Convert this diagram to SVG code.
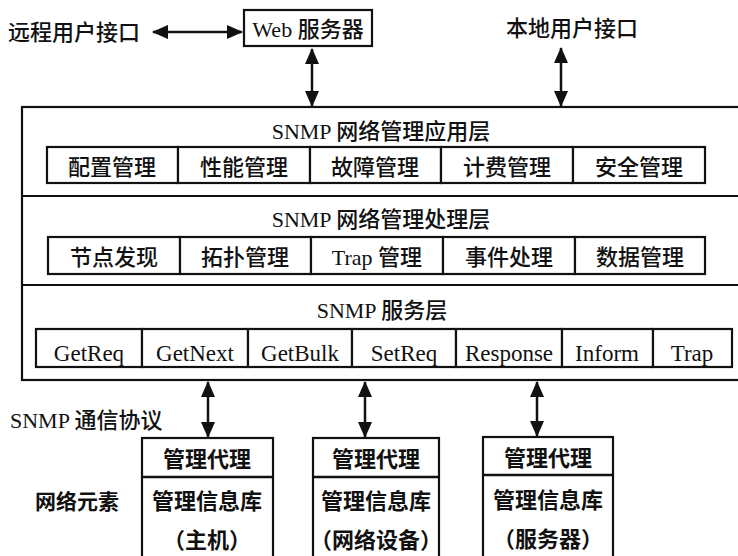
<svg xmlns="http://www.w3.org/2000/svg" width="738" height="556" viewBox="0 0 738 556">
<style>
.bx{fill:#fff;stroke:#111;stroke-width:2.2}
.t{font-family:"Liberation Serif","Noto Sans CJK SC",serif;font-size:22px;font-weight:500;fill:#111;text-anchor:middle}
.r3{font-size:23px}
.c{font-family:"Noto Sans CJK SC",sans-serif;font-size:22px;fill:#111;font-weight:bold}
.m{font-family:"Noto Sans CJK SC",sans-serif;font-size:22px;fill:#111;font-weight:500}
.ln{stroke:#111;stroke-width:2.5;fill:none;marker-start:url(#ah);marker-end:url(#ah)}
</style>
<defs>
<marker id="ah" viewBox="0 0 16 14" refX="15" refY="7" markerWidth="16" markerHeight="14" markerUnits="userSpaceOnUse" orient="auto-start-reverse">
<path d="M0,0 L16,7 L0,14 Z" fill="#111"/>
</marker>
</defs>
<rect width="738" height="556" fill="#fff"/>

<g id="remote"><text class="m" x="8" y="40">远程用户接口</text></g>
<g id="local"><text class="m" x="506" y="36">本地用户接口</text></g>
<g id="web"><rect class="bx" x="244" y="10" width="128" height="36"/><text class="t" x="308" y="37">Web 服务器</text></g>

<g id="stack">
<rect class="bx" x="22" y="107" width="720" height="273"/>
<line x1="22" y1="196" x2="742" y2="196" stroke="#111" stroke-width="2.2"/>
<line x1="22" y1="285" x2="742" y2="285" stroke="#111" stroke-width="2.2"/>
</g>

<g id="layer1">
<text class="t" x="381" y="139">SNMP 网络管理应用层</text>
<g id="l1-boxes">
<rect class="bx" x="47" y="147" width="131" height="36"/><text class="t" x="112" y="175">配置管理</text>
<rect class="bx" x="178" y="147" width="132" height="36"/><text class="t" x="244" y="175">性能管理</text>
<rect class="bx" x="310" y="147" width="131" height="36"/><text class="t" x="375" y="175">故障管理</text>
<rect class="bx" x="441" y="147" width="132" height="36"/><text class="t" x="507" y="175">计费管理</text>
<rect class="bx" x="573" y="147" width="132" height="36"/><text class="t" x="639" y="175">安全管理</text>
</g>
</g>

<g id="layer2">
<text class="t" x="381" y="227">SNMP 网络管理处理层</text>
<g id="l2-boxes">
<rect class="bx" x="48" y="237" width="132" height="37"/><text class="t" x="114" y="265">节点发现</text>
<rect class="bx" x="180" y="237" width="131" height="37"/><text class="t" x="245" y="265">拓扑管理</text>
<rect class="bx" x="311" y="237" width="132" height="37"/><text class="t" x="377" y="265">Trap 管理</text>
<rect class="bx" x="443" y="237" width="132" height="37"/><text class="t" x="509" y="265">事件处理</text>
<rect class="bx" x="575" y="237" width="130" height="37"/><text class="t" x="640" y="265">数据管理</text>
</g>
</g>

<g id="layer3">
<text class="t" x="382" y="318">SNMP 服务层</text>
<g id="l3-boxes">
<rect class="bx" x="36" y="329" width="106" height="38"/><text class="t r3" x="89" y="361">GetReq</text>
<rect class="bx" x="142" y="329" width="106" height="38"/><text class="t r3" x="195" y="361">GetNext</text>
<rect class="bx" x="248" y="329" width="104" height="38"/><text class="t r3" x="300" y="361">GetBulk</text>
<rect class="bx" x="352" y="329" width="104" height="38"/><text class="t r3" x="404" y="361">SetReq</text>
<rect class="bx" x="456" y="329" width="106" height="38"/><text class="t r3" x="509" y="361">Response</text>
<rect class="bx" x="562" y="329" width="91" height="38"/><text class="t r3" x="607" y="361">Inform</text>
<rect class="bx" x="653" y="329" width="79" height="38"/><text class="t r3" x="692" y="361">Trap</text>
</g>
</g>

<g id="proto-label"><text class="t" x="10" y="428" style="text-anchor:start">SNMP 通信协议</text></g>
<g id="ne-label"><text class="c" x="35" y="509" style="font-size:21px">网络元素</text></g>

<g id="host">
<rect class="bx" x="142" y="438" width="131" height="130"/>
<line x1="142" y1="477" x2="273" y2="477" stroke="#111" stroke-width="2.5"/>
<text class="c" x="207" y="467" text-anchor="middle">管理代理</text>
<text class="c" x="207" y="509" text-anchor="middle">管理信息库</text>
<text class="c" x="207" y="548" text-anchor="middle">（主机）</text>
</g>
<g id="netdev">
<rect class="bx" x="313" y="438" width="126" height="130"/>
<line x1="313" y1="477" x2="439" y2="477" stroke="#111" stroke-width="2.5"/>
<text class="c" x="376" y="467" text-anchor="middle">管理代理</text>
<text class="c" x="376" y="509" text-anchor="middle">管理信息库</text>
<text class="c" x="376" y="548" text-anchor="middle">（网络设备）</text>
</g>
<g id="server">
<rect class="bx" x="483" y="437" width="130" height="130"/>
<line x1="483" y1="475" x2="613" y2="475" stroke="#111" stroke-width="2.5"/>
<text class="c" x="548" y="466" text-anchor="middle">管理代理</text>
<text class="c" x="548" y="508" text-anchor="middle">管理信息库</text>
<text class="c" x="548" y="547" text-anchor="middle">（服务器）</text>
</g>

<g id="connectors">
<line class="ln" x1="153" y1="32" x2="242" y2="32"/>
<line class="ln" x1="312" y1="49" x2="312" y2="106"/>
<line class="ln" x1="561" y1="48" x2="561" y2="106"/>
<line class="ln" x1="208" y1="382" x2="208" y2="437"/>
<line class="ln" x1="365" y1="382" x2="365" y2="437"/>
<line class="ln" x1="537" y1="382" x2="537" y2="436"/>
</g>
</svg>
